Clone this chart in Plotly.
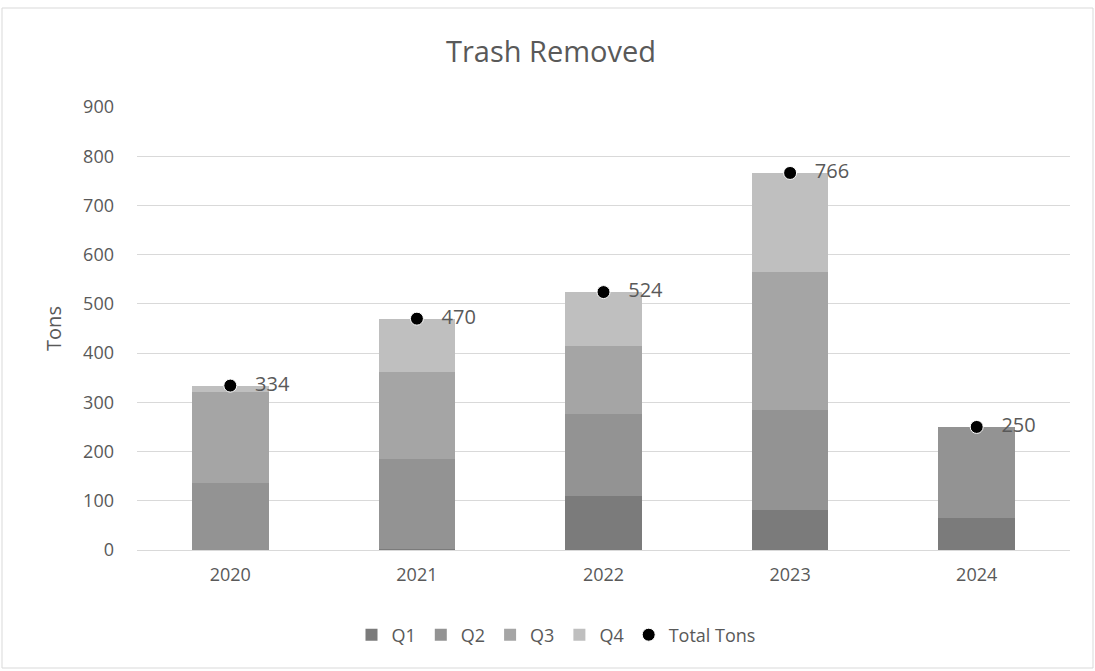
import plotly.graph_objects as go

years = ["2020", "2021", "2022", "2023", "2024"]
q1 = [0, 3, 110, 81, 66]
q2 = [136, 181, 166, 203, 184]
q3 = [184, 178, 139, 280, 0]
q4 = [14, 108, 109, 202, 0]
total = [334, 470, 524, 766, 250]

colors = {"Q1": "#7b7b7b", "Q2": "#939393", "Q3": "#a5a5a5", "Q4": "#bfbfbf"}
FONT = "Open Sans"
TXT = "#595959"

fig = go.Figure()
for name, vals in [("Q1", q1), ("Q2", q2), ("Q3", q3), ("Q4", q4)]:
    fig.add_trace(go.Bar(
        x=years, y=vals, name=name,
        marker=dict(color=colors[name], line=dict(width=0)),
    ))

fig.add_trace(go.Scatter(
    x=years, y=total, name="Total Tons", mode="markers+text",
    marker=dict(color="black", size=13, line=dict(color="white", width=1)),
    text=["\u00a0\u00a0\u00a0" + str(v) for v in total], textposition="middle right",
    textfont=dict(family=FONT, size=20, color=TXT),
))

L, R, T, B = 137, 25, 107, 121
W, H = 1095, 671
pw, ph = W - L - R, H - T - B

def px(x):
    return (x - L) / pw

def py(y):
    return (H - B - y) / ph

fig.add_shape(type="rect", xref="paper", yref="paper",
              x0=px(2), x1=px(1093), y0=py(8), y1=py(668),
              line=dict(color="#d9d9d9", width=1), fillcolor="rgba(0,0,0,0)", layer="below")

fig.update_layout(
    width=W, height=H,
    margin=dict(l=L, r=R, t=T, b=B, autoexpand=False),
    barmode="stack", bargap=0.59,
    plot_bgcolor="white", paper_bgcolor="white",
    font=dict(family=FONT, color=TXT, size=18),
    title=dict(text="Trash Removed", x=px(551), xanchor="center", xref="paper",
               y=1 - 52 / H, yanchor="middle",
               font=dict(family=FONT, size=29, color=TXT)),
    showlegend=True,
    legend=dict(orientation="h", x=px(556), xanchor="center", y=py(635), yanchor="middle",
                font=dict(family=FONT, size=18, color=TXT), itemwidth=30,
                traceorder="normal"),
    xaxis=dict(showgrid=False, showline=True, linecolor="#d9d9d9", linewidth=1,
               tickfont=dict(family=FONT, size=18, color=TXT), ticks="",
               ticklabelstandoff=8, fixedrange=True),
    yaxis=dict(range=[0, 900], dtick=100, showgrid=True, gridcolor="#d9d9d9", gridwidth=1,
               zeroline=False, showline=False, ticks="",
               tickfont=dict(family=FONT, size=18, color=TXT), ticklabelstandoff=22,
               title=dict(text="Tons", font=dict(family=FONT, size=20, color=TXT), standoff=16)),
)

fig.write_html("out.html", config={"displayModeBar": False},
               post_script="document.body.style.margin='0';document.body.style.overflow='hidden';")
